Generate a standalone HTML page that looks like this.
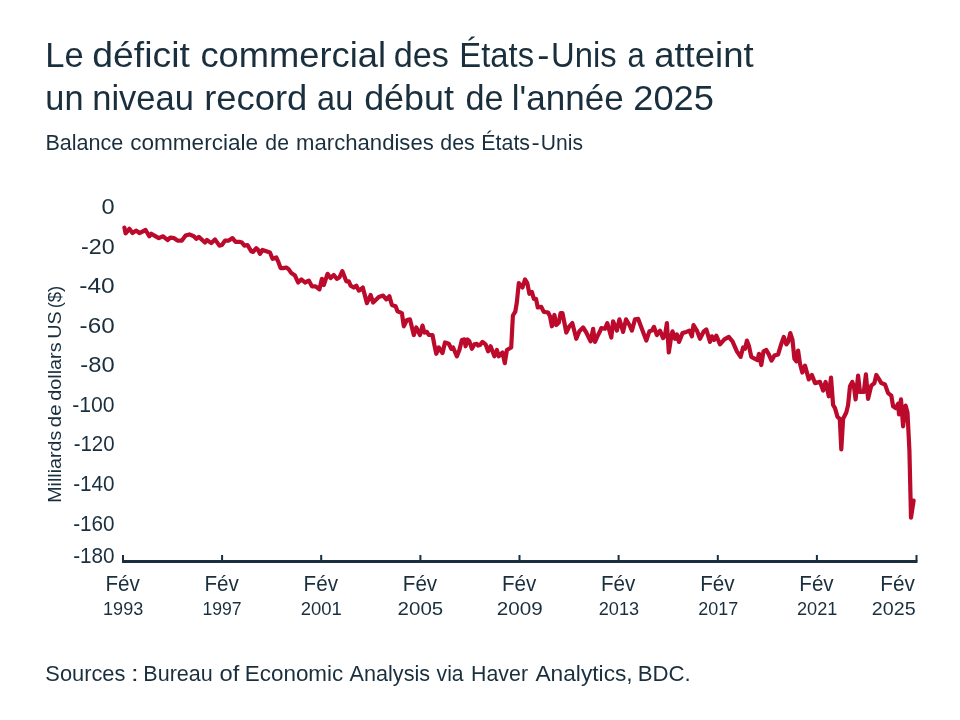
<!DOCTYPE html>
<html lang="fr"><head><meta charset="utf-8"><title>Le déficit commercial des États-Unis</title>
<style>
html,body{margin:0;padding:0;background:#fff;}
body{width:960px;height:720px;position:relative;overflow:hidden;font-family:"Liberation Sans",sans-serif;color:#1a2f3e;}
text{white-space:pre;}
</style></head><body>
<svg width="960" height="720" viewBox="0 0 960 720" style="position:absolute;left:0;top:0">
<rect x="122" y="560" width="795.5" height="3" fill="#1a2f3e"/>
<rect x="122.0" y="555" width="2" height="6" fill="#1a2f3e"/>
<rect x="221.1" y="555" width="2" height="6" fill="#1a2f3e"/>
<rect x="320.2" y="555" width="2" height="6" fill="#1a2f3e"/>
<rect x="419.4" y="555" width="2" height="6" fill="#1a2f3e"/>
<rect x="518.5" y="555" width="2" height="6" fill="#1a2f3e"/>
<rect x="617.6" y="555" width="2" height="6" fill="#1a2f3e"/>
<rect x="716.8" y="555" width="2" height="6" fill="#1a2f3e"/>
<rect x="815.9" y="555" width="2" height="6" fill="#1a2f3e"/>
<rect x="915.5" y="555" width="2" height="6" fill="#1a2f3e"/>
<path d="M124.4,227.6 L125.6,233.3 L129.4,228.8 L132.5,233.1 L136.3,230.6 L139.4,233.1 L145.6,230.0 L149.4,236.3 L151.3,233.8 L154.4,235.6 L158.8,238.1 L163.1,236.3 L167.5,240.0 L170.6,237.5 L173.8,238.1 L177.5,240.6 L181.9,240.6 L185.6,235.6 L189.4,234.4 L193.8,236.3 L196.3,238.8 L198.8,236.9 L205.0,242.5 L206.9,240.0 L211.3,243.1 L215.0,239.4 L219.4,245.6 L221.9,245.0 L225.0,240.6 L228.8,240.6 L232.5,238.1 L235.6,241.9 L240.0,241.9 L241.9,242.5 L244.4,245.6 L247.5,245.0 L251.3,251.3 L253.1,251.9 L256.3,248.1 L258.1,250.0 L260.0,253.8 L262.5,250.0 L266.3,251.3 L270.0,252.5 L272.5,258.8 L276.3,257.5 L278.1,261.3 L280.6,268.1 L283.1,268.1 L286.3,267.5 L288.8,269.4 L291.3,273.1 L295.0,275.6 L298.1,282.5 L301.3,279.4 L305.0,282.5 L308.8,280.6 L311.9,286.3 L315.6,286.3 L319.4,289.4 L321.9,278.8 L323.8,285.0 L327.5,273.8 L330.6,278.1 L333.8,275.0 L336.9,278.8 L339.4,277.5 L342.3,271.1 L346.3,281.3 L348.8,281.3 L350.6,285.6 L353.8,287.5 L356.3,285.6 L358.8,290.6 L360.0,290.0 L362.8,287.5 L366.9,303.1 L370.6,295.0 L373.1,302.5 L378.8,296.9 L383.1,295.6 L386.3,299.4 L389.4,296.3 L391.9,305.0 L395.6,306.3 L397.5,311.3 L401.9,313.1 L403.8,326.3 L406.9,320.0 L410.0,319.4 L413.8,335.0 L416.3,327.5 L420.0,335.0 L422.5,325.6 L424.4,332.5 L426.9,331.9 L428.8,335.0 L432.5,335.0 L434.4,345.0 L436.3,353.8 L438.8,347.5 L442.5,353.1 L445.0,342.5 L448.8,343.8 L451.3,348.8 L453.1,347.5 L456.9,356.3 L459.4,350.0 L461.9,340.0 L464.4,339.4 L465.6,346.3 L467.5,339.4 L469.4,341.3 L471.9,348.8 L474.4,344.4 L476.9,343.8 L478.1,345.6 L480.0,345.0 L482.5,341.9 L485.6,344.4 L488.1,351.3 L490.6,346.3 L494.4,356.3 L496.9,350.0 L498.8,356.3 L502.5,352.5 L504.8,363.1 L506.9,350.0 L511.2,347.5 L512.9,315.5 L515.3,311.6 L516.9,301.9 L518.8,283.1 L522.5,287.5 L525.0,279.4 L527.3,283.1 L529.4,293.8 L531.9,291.9 L533.8,298.8 L536.0,298.8 L537.8,307.5 L541.3,306.9 L543.8,311.9 L548.1,312.5 L550.0,316.3 L551.9,326.3 L554.4,315.0 L556.3,325.0 L558.8,322.5 L560.6,313.1 L562.5,313.1 L566.3,332.5 L569.4,326.3 L572.3,323.1 L576.3,338.8 L579.4,331.3 L583.1,327.5 L586.3,332.5 L590.6,341.3 L593.1,328.8 L595.0,341.9 L598.1,335.0 L600.0,331.3 L601.3,328.1 L605.0,328.8 L607.3,323.1 L611.3,337.5 L613.1,321.3 L616.9,330.6 L619.4,319.4 L623.1,331.9 L626.0,319.4 L629.4,325.0 L631.9,330.6 L635.0,319.4 L638.1,318.8 L642.5,330.6 L646.3,340.6 L649.4,331.3 L651.9,330.6 L654.0,326.9 L656.9,335.0 L660.0,330.6 L663.1,338.1 L665.0,335.0 L666.9,323.1 L668.8,352.5 L671.3,336.3 L672.5,331.3 L675.0,338.8 L676.9,334.4 L679.0,341.9 L682.5,333.1 L686.3,331.9 L689.4,330.6 L691.9,336.3 L693.5,325.0 L696.9,330.6 L700.0,338.8 L703.8,331.3 L706.3,329.4 L710.0,341.9 L711.9,336.3 L714.0,340.0 L716.3,335.6 L720.0,344.4 L724.4,339.4 L728.8,336.9 L732.5,341.3 L736.9,351.3 L740.6,356.9 L743.1,347.5 L745.0,348.8 L746.9,340.6 L749.0,346.3 L751.3,356.9 L755.0,358.8 L757.5,360.0 L759.0,353.8 L761.3,365.0 L763.5,351.3 L766.3,350.0 L768.8,354.4 L771.5,360.6 L774.4,355.6 L778.1,354.4 L781.3,343.8 L783.8,336.9 L786.3,344.4 L788.1,341.9 L790.3,333.1 L792.5,340.0 L794.4,358.8 L796.3,361.3 L798.1,350.6 L800.0,363.8 L802.3,372.5 L805.0,365.6 L808.8,379.4 L811.9,375.0 L815.0,383.1 L820.0,381.9 L823.1,390.6 L825.6,381.9 L828.8,396.3 L831.0,377.5 L833.1,405.0 L835.0,408.1 L837.5,416.9 L839.8,418.8 L841.3,449.4 L843.1,418.8 L846.3,412.5 L848.1,405.0 L850.0,386.3 L852.3,381.9 L854.0,386.9 L855.6,399.4 L858.1,375.6 L860.0,391.9 L863.8,391.9 L865.9,374.4 L868.1,398.8 L871.3,385.6 L874.4,383.1 L876.3,375.0 L878.8,378.8 L881.3,383.1 L885.0,384.4 L888.1,393.1 L891.3,395.6 L893.1,406.3 L895.6,408.1 L898.1,403.8 L899.0,414.4 L901.0,399.4 L903.1,426.3 L905.6,405.6 L907.5,412.5 L909.4,450.0 L911.0,517.6 L913.6,500.6" fill="none" stroke="#bb0a2b" stroke-width="4.2" stroke-linejoin="round" stroke-linecap="round"/>
<g font-family="Liberation Sans, sans-serif" fill="#1a2f3e">
<text id="t1" y="66.5" font-size="35"><tspan x="45.20" textLength="38.40" lengthAdjust="spacingAndGlyphs">Le</tspan> <tspan x="92.23" textLength="97.64" lengthAdjust="spacingAndGlyphs">déficit</tspan> <tspan x="200.47" textLength="185.63" lengthAdjust="spacingAndGlyphs">commercial</tspan> <tspan x="393.68" textLength="55.19" lengthAdjust="spacingAndGlyphs">des</tspan> <tspan x="459.34" textLength="74.79" lengthAdjust="spacingAndGlyphs">États</tspan><tspan x="537.16" textLength="12.16" lengthAdjust="spacingAndGlyphs">-</tspan><tspan x="551.05" textLength="65.57" lengthAdjust="spacingAndGlyphs">Unis</tspan> <tspan x="627.44" textLength="17.17" lengthAdjust="spacingAndGlyphs">a</tspan> <tspan x="654.16" textLength="99.47" lengthAdjust="spacingAndGlyphs">atteint</tspan></text>
<text id="t2" y="109.5" font-size="35"><tspan x="45.36" textLength="38.17" lengthAdjust="spacingAndGlyphs">un</tspan> <tspan x="92.25" textLength="101.59" lengthAdjust="spacingAndGlyphs">niveau</tspan> <tspan x="204.23" textLength="103.12" lengthAdjust="spacingAndGlyphs">record</tspan> <tspan x="317.08" textLength="36.14" lengthAdjust="spacingAndGlyphs">au</tspan> <tspan x="364.18" textLength="89.70" lengthAdjust="spacingAndGlyphs">début</tspan> <tspan x="465.53" textLength="38.06" lengthAdjust="spacingAndGlyphs">de</tspan> <tspan x="511.81" textLength="111.91" lengthAdjust="spacingAndGlyphs">l'année</tspan> <tspan x="633.30" textLength="80.67" lengthAdjust="spacingAndGlyphs">2025</tspan></text>
<text id="sub" y="150" font-size="22"><tspan x="45.41" textLength="77.96" lengthAdjust="spacingAndGlyphs">Balance</tspan> <tspan x="130.19" textLength="127.92" lengthAdjust="spacingAndGlyphs">commerciale</tspan> <tspan x="265.34" textLength="23.62" lengthAdjust="spacingAndGlyphs">de</tspan> <tspan x="296.12" textLength="137.67" lengthAdjust="spacingAndGlyphs">marchandises</tspan> <tspan x="440.33" textLength="34.43" lengthAdjust="spacingAndGlyphs">des</tspan> <tspan x="481.33" textLength="48.74" lengthAdjust="spacingAndGlyphs">États</tspan><tspan x="531.64" textLength="8.15" lengthAdjust="spacingAndGlyphs">-</tspan><tspan x="540.78" textLength="42.18" lengthAdjust="spacingAndGlyphs">Unis</tspan></text>
<text id="src" y="681.2" font-size="22.8"><tspan x="45.32" textLength="80.11" lengthAdjust="spacingAndGlyphs">Sources</tspan> <tspan x="131.06" textLength="7.62" lengthAdjust="spacingAndGlyphs">:</tspan> <tspan x="143.32" textLength="69.49" lengthAdjust="spacingAndGlyphs">Bureau</tspan> <tspan x="219.51" textLength="19.81" lengthAdjust="spacingAndGlyphs">of</tspan> <tspan x="244.75" textLength="98.50" lengthAdjust="spacingAndGlyphs">Economic</tspan> <tspan x="349.60" textLength="80.48" lengthAdjust="spacingAndGlyphs">Analysis</tspan> <tspan x="436.60" textLength="27.02" lengthAdjust="spacingAndGlyphs">via</tspan> <tspan x="471.08" textLength="56.92" lengthAdjust="spacingAndGlyphs">Haver</tspan> <tspan x="535.40" textLength="97.30" lengthAdjust="spacingAndGlyphs">Analytics,</tspan> <tspan x="637.66" textLength="53.09" lengthAdjust="spacingAndGlyphs">BDC.</tspan></text>
<text y="214.4" font-size="22.2"><tspan x="101.56" textLength="13.13" lengthAdjust="spacingAndGlyphs">0</tspan></text>
<text y="253.9" font-size="22.2"><tspan x="80.97" textLength="33.71" lengthAdjust="spacingAndGlyphs">-20</tspan></text>
<text y="293.4" font-size="22.2"><tspan x="79.23" textLength="35.48" lengthAdjust="spacingAndGlyphs">-40</tspan></text>
<text y="332.9" font-size="22.2"><tspan x="79.64" textLength="35.06" lengthAdjust="spacingAndGlyphs">-60</tspan></text>
<text y="372.4" font-size="22.2"><tspan x="80.36" textLength="34.33" lengthAdjust="spacingAndGlyphs">-80</tspan></text>
<text y="411.9" font-size="22.2"><tspan x="72.14" textLength="42.49" lengthAdjust="spacingAndGlyphs">-100</tspan></text>
<text y="451.4" font-size="22.2"><tspan x="73.66" textLength="40.95" lengthAdjust="spacingAndGlyphs">-120</tspan></text>
<text y="491.0" font-size="22.2"><tspan x="73.15" textLength="41.46" lengthAdjust="spacingAndGlyphs">-140</tspan></text>
<text y="530.5" font-size="22.2"><tspan x="73.15" textLength="41.46" lengthAdjust="spacingAndGlyphs">-160</tspan></text>
<text y="563.4" font-size="22.2"><tspan x="73.15" textLength="41.46" lengthAdjust="spacingAndGlyphs">-180</tspan></text>
<text y="591" font-size="22"><tspan x="105.39" textLength="34.41" lengthAdjust="spacingAndGlyphs">Fév</tspan></text>
<text y="615" font-size="18"><tspan x="103.07" textLength="40.16" lengthAdjust="spacingAndGlyphs">1993</tspan></text>
<text y="591" font-size="22"><tspan x="204.49" textLength="34.41" lengthAdjust="spacingAndGlyphs">Fév</tspan></text>
<text y="615" font-size="18"><tspan x="202.40" textLength="39.22" lengthAdjust="spacingAndGlyphs">1997</tspan></text>
<text y="591" font-size="22"><tspan x="303.59" textLength="34.41" lengthAdjust="spacingAndGlyphs">Fév</tspan></text>
<text y="615" font-size="18"><tspan x="300.73" textLength="41.12" lengthAdjust="spacingAndGlyphs">2001</tspan></text>
<text y="591" font-size="22"><tspan x="402.79" textLength="34.41" lengthAdjust="spacingAndGlyphs">Fév</tspan></text>
<text y="615" font-size="18"><tspan x="397.64" textLength="45.59" lengthAdjust="spacingAndGlyphs">2005</tspan></text>
<text y="591" font-size="22"><tspan x="501.89" textLength="34.41" lengthAdjust="spacingAndGlyphs">Fév</tspan></text>
<text y="615" font-size="18"><tspan x="496.83" textLength="45.90" lengthAdjust="spacingAndGlyphs">2009</tspan></text>
<text y="591" font-size="22"><tspan x="600.99" textLength="34.41" lengthAdjust="spacingAndGlyphs">Fév</tspan></text>
<text y="615" font-size="18"><tspan x="598.75" textLength="40.39" lengthAdjust="spacingAndGlyphs">2013</tspan></text>
<text y="591" font-size="22"><tspan x="700.19" textLength="34.41" lengthAdjust="spacingAndGlyphs">Fév</tspan></text>
<text y="615" font-size="18"><tspan x="698.16" textLength="39.97" lengthAdjust="spacingAndGlyphs">2017</tspan></text>
<text y="591" font-size="22"><tspan x="799.29" textLength="34.41" lengthAdjust="spacingAndGlyphs">Fév</tspan></text>
<text y="615" font-size="18"><tspan x="796.95" textLength="40.39" lengthAdjust="spacingAndGlyphs">2021</tspan></text>
<text y="591" font-size="22"><tspan x="880.28" textLength="34.62" lengthAdjust="spacingAndGlyphs">Fév</tspan></text>
<text y="615" font-size="18"><tspan x="871.88" textLength="43.82" lengthAdjust="spacingAndGlyphs">2025</tspan></text>
<text transform="translate(61.2,0) rotate(-90)" font-size="19.2" y="0"><tspan x="-502.83" textLength="72.05" lengthAdjust="spacingAndGlyphs">Milliards</tspan> <tspan x="-427.24" textLength="22.77" lengthAdjust="spacingAndGlyphs">de</tspan> <tspan x="-400.82" textLength="58.44" lengthAdjust="spacingAndGlyphs">dollars</tspan> <tspan x="-338.74" textLength="27.57" lengthAdjust="spacingAndGlyphs">US</tspan> <tspan x="-308.37" textLength="22.63" lengthAdjust="spacingAndGlyphs">($)</tspan></text>
</g></svg>
</body></html>
